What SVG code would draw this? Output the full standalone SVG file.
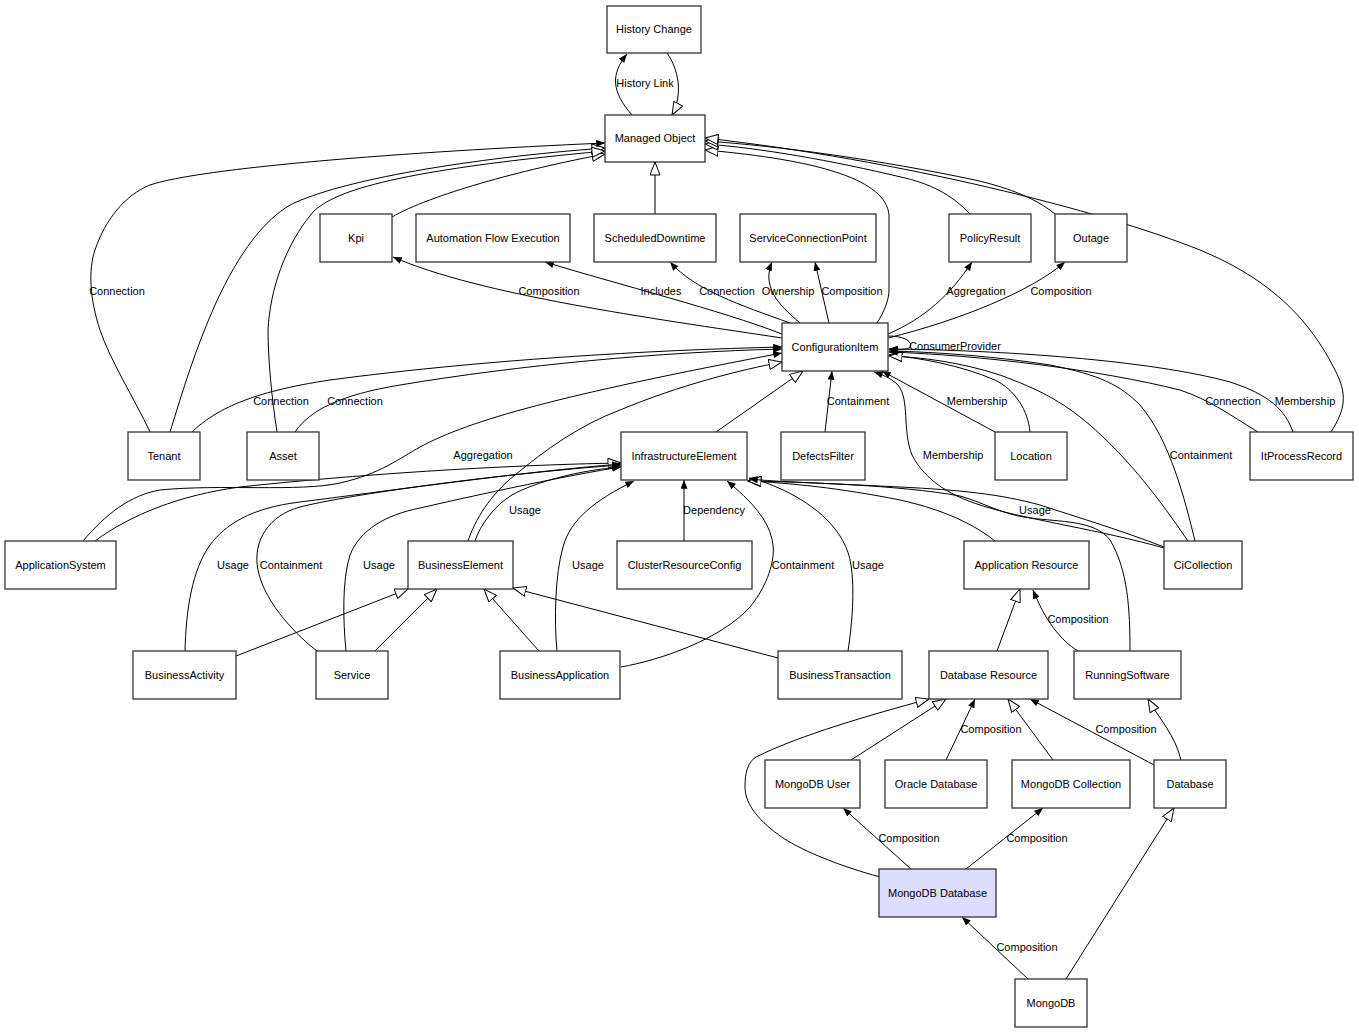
<svg xmlns="http://www.w3.org/2000/svg" width="1359" height="1033" viewBox="0 0 1359 1033">
<style>
.n rect{fill:#fff;stroke:#333;stroke-width:1.3}
.n text,.l text{font-family:"Liberation Sans",Arial,sans-serif;font-size:11px;fill:#000}
.n text{text-anchor:middle}
.l text{text-anchor:middle}
.e path{fill:none;stroke:#000;stroke-width:1}
.e .a{marker-end:url(#f)}
.e .h{marker-end:url(#h)}
</style>
<defs>
<marker id="f" viewBox="0 0 10 8" refX="10" refY="4" markerWidth="9" markerHeight="7" markerUnits="userSpaceOnUse" orient="auto"><path d="M0,0 L10,4 L0,8 z" fill="#000"/></marker>
<marker id="h" viewBox="0 0 14 11" refX="13.5" refY="5.5" markerWidth="14" markerHeight="11" markerUnits="userSpaceOnUse" orient="auto"><path d="M0.5,0.5 L13.5,5.5 L0.5,10.5 z" fill="#fff" stroke="#000" stroke-width="1"/></marker>
</defs>
<rect width="1359" height="1033" fill="#fff"/>
<g id="connectors" class="e">
<path class="a" d="M632,115 C612,92 610,75 627,54"/>
<path class="h" d="M667,53 C679,70 683,95 672,115"/>
<path class="h" d="M655,214 L655,162"/>
<path class="h" d="M392,217 C430,195 520,170 605,154"/>
<path class="h" d="M170,432 C183,390 195,350 215,305 C240,250 265,220 290,205 C340,180 470,158 605,148"/>
<path class="a" d="M150,432 C135,400 110,360 100,330 C90,300 88,270 95,250 C105,220 125,195 150,185 C200,168 400,152 605,143"/>
<path class="h" d="M277,432 C272,400 268,360 268,330 C270,290 285,245 313,212 C335,190 400,170 605,151"/>
<path class="h" d="M877,323 C884,312 889,300 889,290 L889,215 C886,180 820,160 705,150"/>
<path class="h" d="M970,214 C955,198 935,185 905,178 C830,160 760,148 705,144"/>
<path class="h" d="M1057,216 C1040,200 1010,188 975,180 C880,160 780,146 705,141"/>
<path class="h" d="M1331,432 C1345,410 1348,395 1335,370 C1305,310 1260,275 1200,250 C1100,210 900,160 705,138"/>
<path class="a" d="M782,338 C650,318 480,295 393,257"/>
<path class="a" d="M782,334 C720,310 620,285 545,262"/>
<path class="a" d="M790,323 C740,305 695,290 670,262"/>
<path class="a" d="M800,323 C785,310 760,290 772,262"/>
<path class="a" d="M829,323 L815,262"/>
<path class="a" d="M888,334 C925,318 950,295 972,262"/>
<path class="a" d="M888,338 C960,320 1030,292 1065,262"/>
<path class="a" d="M888,336 C905,336 913,342 910,347 C907,350 898,350 889,349"/>
<path class="a" d="M192,432 C215,410 250,392 330,380 C480,360 650,350 782,347"/>
<path class="a" d="M295,432 C310,410 340,395 400,385 C520,365 660,352 782,349"/>
<path class="a" d="M83,541 C105,515 130,495 160,490 C220,484 300,492 340,483 C380,474 400,458 420,447 C470,420 560,395 782,353"/>
<path class="h" d="M95,541 C130,515 180,495 240,487 C350,475 500,465 621,463"/>
<path class="h" d="M468,541 C475,520 490,495 515,475 C545,450 580,425 620,410 C680,385 740,370 782,362"/>
<path class="h" d="M716,432 L803,371"/>
<path class="a" d="M825,432 L832,371"/>
<path class="a" d="M995,432 L882,371"/>
<path class="h" d="M1030,432 C1028,410 1015,390 995,380 C960,365 920,358 889,355"/>
<path class="a" d="M1195,541 C1185,500 1170,440 1140,405 C1120,385 1100,375 1050,365 C1000,357 940,352 889,351"/>
<path class="h" d="M1188,541 C1160,500 1130,460 1090,425 C1060,400 1040,390 1000,375 C960,362 920,357 889,356"/>
<path class="a" d="M1164,548 C1100,530 1030,520 990,508 C950,497 925,480 912,455 C902,430 910,400 898,385 C890,377 880,374 874,372"/>
<path class="a" d="M1258,432 C1230,415 1210,400 1180,390 C1100,370 980,355 889,352"/>
<path class="a" d="M1293,432 C1285,410 1270,395 1230,382 C1150,360 1000,350 889,349"/>
<path class="a" d="M185,651 C186,610 192,570 210,545 C225,525 250,508 300,502 C380,492 520,472 621,464"/>
<path class="a" d="M317,651 C300,638 265,605 258,570 C252,540 270,515 300,507 C360,492 520,472 621,465"/>
<path class="a" d="M346,651 C343,620 342,580 350,555 C360,530 385,515 420,508 C490,492 570,475 621,467"/>
<path class="a" d="M475,541 C480,525 495,505 512,495 C535,482 580,470 621,467"/>
<path class="a" d="M557,651 C554,620 555,575 563,547 C570,520 595,500 634,481"/>
<path class="a" d="M684,541 L684,480"/>
<path class="a" d="M621,667 C660,660 720,640 750,607 C768,585 775,560 773,545 C770,520 750,500 727,481"/>
<path class="a" d="M848,651 C852,625 855,590 851,565 C846,530 815,505 783,490 C770,484 760,480 749,478"/>
<path class="h" d="M995,541 C975,525 945,510 900,500 C840,488 790,483 748,481"/>
<path class="h" d="M1130,651 C1130,610 1128,570 1110,540 C1095,520 1060,522 1030,518 C1000,514 985,503 960,496 C900,485 800,482 748,481"/>
<path class="a" d="M1164,547 C1120,530 1080,518 1040,505 C1000,494 960,490 900,487 C820,483 780,482 749,479"/>
<path class="h" d="M236,656 L408,589"/>
<path class="h" d="M375,651 L437,589"/>
<path class="h" d="M539,651 L484,589"/>
<path class="h" d="M778,658 L513,588"/>
<path class="h" d="M997,651 L1020,589"/>
<path class="a" d="M1078,651 C1060,640 1045,620 1033,590"/>
<path class="h" d="M880,877 C840,866 805,852 783,838 C760,822 745,805 745,787 C745,772 748,762 756,757 C800,735 870,715 929,699"/>
<path class="h" d="M851,760 L946,699"/>
<path class="a" d="M946,760 L975,699"/>
<path class="h" d="M1053,760 L1008,699"/>
<path class="a" d="M1154,765 L1030,699"/>
<path class="h" d="M1181,760 C1175,735 1160,720 1148,699"/>
<path class="a" d="M911,869 L843,808"/>
<path class="a" d="M966,869 L1043,808"/>
<path class="a" d="M1028,979 L962,917"/>
<path class="h" d="M1066,979 L1174,808"/>
</g>
<g id="edge-labels" class="l">
<text x="645" y="87">History Link</text>
<text x="117" y="295">Connection</text>
<text x="549" y="295">Composition</text>
<text x="661" y="295">Includes</text>
<text x="727" y="295">Connection</text>
<text x="788" y="295">Ownership</text>
<text x="852" y="295">Composition</text>
<text x="976" y="295">Aggregation</text>
<text x="1061" y="295">Composition</text>
<text x="955" y="350">ConsumerProvider</text>
<text x="281" y="405">Connection</text>
<text x="355" y="405">Connection</text>
<text x="858" y="405">Containment</text>
<text x="977" y="405">Membership</text>
<text x="1233" y="405">Connection</text>
<text x="1305" y="405">Membership</text>
<text x="483" y="459">Aggregation</text>
<text x="953" y="459">Membership</text>
<text x="1201" y="459">Containment</text>
<text x="525" y="514">Usage</text>
<text x="714" y="514">Dependency</text>
<text x="1035" y="514">Usage</text>
<text x="233" y="569">Usage</text>
<text x="291" y="569">Containment</text>
<text x="379" y="569">Usage</text>
<text x="588" y="569">Usage</text>
<text x="803" y="569">Containment</text>
<text x="868" y="569">Usage</text>
<text x="1078" y="623">Composition</text>
<text x="991" y="733">Composition</text>
<text x="1126" y="733">Composition</text>
<text x="909" y="842">Composition</text>
<text x="1037" y="842">Composition</text>
<text x="1027" y="951">Composition</text>
</g>
<g id="n-history-change" class="n"><rect x="607" y="6" width="94" height="47"/><text x="654" y="33">History Change</text></g>
<g id="n-managed-object" class="n"><rect x="605" y="115" width="100" height="47"/><text x="655" y="142">Managed Object</text></g>
<g id="n-kpi" class="n"><rect x="320" y="214" width="72" height="48"/><text x="356" y="242">Kpi</text></g>
<g id="n-afe" class="n"><rect x="416" y="214" width="154" height="48"/><text x="493" y="242">Automation Flow Execution</text></g>
<g id="n-scheduled-downtime" class="n"><rect x="594" y="214" width="122" height="48"/><text x="655" y="242">ScheduledDowntime</text></g>
<g id="n-scp" class="n"><rect x="740" y="214" width="136" height="48"/><text x="808" y="242">ServiceConnectionPoint</text></g>
<g id="n-policy-result" class="n"><rect x="949" y="214" width="82" height="48"/><text x="990" y="242">PolicyResult</text></g>
<g id="n-outage" class="n"><rect x="1055" y="214" width="72" height="48"/><text x="1091" y="242">Outage</text></g>
<g id="n-ci" class="n"><rect x="782" y="323" width="106" height="48"/><text x="835" y="351">ConfigurationItem</text></g>
<g id="n-tenant" class="n"><rect x="128" y="432" width="72" height="48"/><text x="164" y="460">Tenant</text></g>
<g id="n-asset" class="n"><rect x="247" y="432" width="72" height="48"/><text x="283" y="460">Asset</text></g>
<g id="n-ie" class="n"><rect x="621" y="432" width="126" height="48"/><text x="684" y="460">InfrastructureElement</text></g>
<g id="n-defects-filter" class="n"><rect x="781" y="432" width="84" height="48"/><text x="823" y="460">DefectsFilter</text></g>
<g id="n-location" class="n"><rect x="995" y="432" width="72" height="48"/><text x="1031" y="460">Location</text></g>
<g id="n-itprocessrecord" class="n"><rect x="1250" y="432" width="103" height="48"/><text x="1301.5" y="460">ItProcessRecord</text></g>
<g id="n-application-system" class="n"><rect x="5" y="541" width="111" height="48"/><text x="60.5" y="569">ApplicationSystem</text></g>
<g id="n-business-element" class="n"><rect x="408" y="541" width="105" height="48"/><text x="460.5" y="569">BusinessElement</text></g>
<g id="n-cluster-resource-config" class="n"><rect x="617" y="541" width="135" height="48"/><text x="684.5" y="569">ClusterResourceConfig</text></g>
<g id="n-application-resource" class="n"><rect x="964" y="541" width="125" height="48"/><text x="1026.5" y="569">Application Resource</text></g>
<g id="n-cicollection" class="n"><rect x="1164" y="541" width="78" height="48"/><text x="1203" y="569">CiCollection</text></g>
<g id="n-business-activity" class="n"><rect x="133" y="651" width="103" height="48"/><text x="184.5" y="679">BusinessActivity</text></g>
<g id="n-service" class="n"><rect x="316" y="651" width="72" height="48"/><text x="352" y="679">Service</text></g>
<g id="n-business-application" class="n"><rect x="500" y="651" width="120" height="48"/><text x="560" y="679">BusinessApplication</text></g>
<g id="n-business-transaction" class="n"><rect x="778" y="651" width="124" height="48"/><text x="840" y="679">BusinessTransaction</text></g>
<g id="n-database-resource" class="n"><rect x="929" y="651" width="119" height="48"/><text x="988.5" y="679">Database Resource</text></g>
<g id="n-running-software" class="n"><rect x="1074" y="651" width="107" height="48"/><text x="1127.5" y="679">RunningSoftware</text></g>
<g id="n-mongodb-user" class="n"><rect x="765" y="760" width="95" height="48"/><text x="812.5" y="788">MongoDB User</text></g>
<g id="n-oracle-database" class="n"><rect x="885" y="760" width="102" height="48"/><text x="936" y="788">Oracle Database</text></g>
<g id="n-mongodb-collection" class="n"><rect x="1012" y="760" width="118" height="48"/><text x="1071" y="788">MongoDB Collection</text></g>
<g id="n-database" class="n"><rect x="1154" y="760" width="72" height="48"/><text x="1190" y="788">Database</text></g>
<g id="n-mongodb-database" class="n"><rect x="879" y="869" width="117" height="48" style="fill:#ddddff"/><text x="937.5" y="897">MongoDB Database</text></g>
<g id="n-mongodb" class="n"><rect x="1015" y="979" width="72" height="48"/><text x="1051" y="1007">MongoDB</text></g>
</svg>
